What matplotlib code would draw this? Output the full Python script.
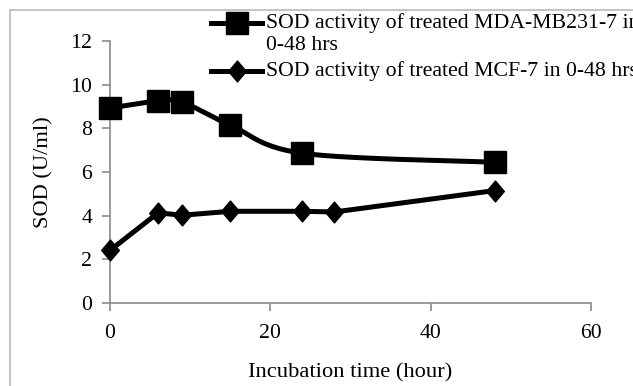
import numpy as np
import matplotlib
matplotlib.use("Agg")
import matplotlib.pyplot as plt
from matplotlib.path import Path
from matplotlib.lines import Line2D
from matplotlib.patches import Rectangle

# ---- data ----
time_mda = [0, 6, 9, 15, 24, 48]
sod_mda = [8.93, 9.25, 9.2, 8.15, 6.86, 6.45]
time_mcf = [0, 6, 9, 15, 24, 28, 48]
sod_mcf = [2.41, 4.13, 4.02, 4.2, 4.2, 4.17, 5.15]
label_mda = "SOD activity of treated MDA-MB231-7 in"
label_mda2 = "0-48 hrs"
label_mcf = "SOD activity of treated MCF-7 in 0-48 hrs"
xticks = [0, 20, 40, 60]
yticks = [0, 2, 4, 6, 8, 10, 12]
xlabel = "Incubation time (hour)"
ylabel = "SOD (U/ml)"

plt.rcParams['font.family'] = ['Liberation Serif', 'DejaVu Serif']
FS = 15.7

W, H = 633, 386
fig = plt.figure(figsize=(W / 100, H / 100), dpi=100)
X0, X1, Y0, Y1 = 110, 591, 303, 41
ax = fig.add_axes([X0 / W, 1 - Y0 / H, (X1 - X0) / W, (Y0 - Y1) / H])

# outer frame
fig.patches.append(Rectangle((10 / W, -0.1), 1.2, 1 - 10 / H + 0.1, transform=fig.transFigure,
                             fill=False, edgecolor='#bfbfbf', lw=1.3))


def smooth(x, y, n=30):
    x = np.asarray(x, float); y = np.asarray(y, float)
    px = np.concatenate([[x[0]], x, [x[-1]]])
    py = np.concatenate([[y[0]], y, [y[-1]]])
    xs, ys = [], []
    for i in range(1, len(px) - 2):
        p0 = np.array([px[i - 1], py[i - 1]]); p1 = np.array([px[i], py[i]])
        p2 = np.array([px[i + 1], py[i + 1]]); p3 = np.array([px[i + 2], py[i + 2]])
        c1 = p1 + (p2 - p0) / 6.0
        c2 = p2 - (p3 - p1) / 6.0
        t = np.linspace(0, 1, n)[:, None]
        b = (1 - t) ** 3 * p1 + 3 * (1 - t) ** 2 * t * c1 + 3 * (1 - t) * t ** 2 * c2 + t ** 3 * p2
        xs.extend(b[:, 0]); ys.extend(b[:, 1])
    return np.array(xs), np.array(ys)


diamond = Path([(0, 1), (0.85, 0), (0, -1), (-0.85, 0), (0, 1)],
               [Path.MOVETO, Path.LINETO, Path.LINETO, Path.LINETO, Path.CLOSEPOLY])

LW = 3.6
MS_S = 16
MS_D = 15
sx, sy = smooth(time_mda, sod_mda)
ax.plot(sx, sy, color='black', lw=LW, solid_capstyle='round', clip_on=False, zorder=3)
ax.plot(time_mda, sod_mda, ls='none', marker='s', ms=MS_S, color='black', clip_on=False, zorder=4)
ax.plot(time_mcf, sod_mcf, color='black', lw=LW, marker=diamond, ms=MS_D,
        solid_joinstyle='round', clip_on=False, zorder=4)

ax.set_xlim(0, 60)
ax.set_ylim(0, 12)
ax.set_xticks(xticks)
ax.set_yticks(yticks)
ax.set_xticklabels([str(v) for v in xticks], fontsize=FS)
ax.set_yticklabels([str(v) for v in yticks], fontsize=FS)
for s in ['top', 'right']:
    ax.spines[s].set_visible(False)
for s in ['left', 'bottom']:
    ax.spines[s].set_color('#8a8a8a')
    ax.spines[s].set_linewidth(1.2)
ax.tick_params(axis='both', direction='out', length=5.8, width=1.2, color='#8a8a8a', pad=7)
ax.tick_params(axis='x', pad=9)
ax.set_xlabel(xlabel, fontsize=FS + 0.5, labelpad=15)
ax.set_ylabel(ylabel, fontsize=FS + 0.5, labelpad=12)

# legend (manual)
def fx(p): return p / W
def fy(p): return 1 - p / H

LY1, LY2, LY3 = 23, 46, 71
fig.add_artist(Line2D([fx(211), fx(262)], [fy(LY1), fy(LY1)], color='black', lw=LW,
                      transform=fig.transFigure))
fig.add_artist(Line2D([fx(237)], [fy(LY1)], color='black', marker='s', ms=MS_S, ls='none',
                      transform=fig.transFigure))
fig.add_artist(Line2D([fx(211), fx(262)], [fy(LY3), fy(LY3)], color='black', lw=LW,
                      transform=fig.transFigure))
fig.add_artist(Line2D([fx(237)], [fy(LY3)], color='black', marker=diamond, ms=MS_D, ls='none',
                      transform=fig.transFigure))
fig.text(fx(266), fy(LY1), label_mda, fontsize=FS, va='center', ha='left')
fig.text(fx(266), fy(LY2), label_mda2, fontsize=FS, va='center', ha='left')
fig.text(fx(266), fy(LY3), label_mcf, fontsize=FS, va='center', ha='left')

fig.savefig("out.png", dpi=100)
